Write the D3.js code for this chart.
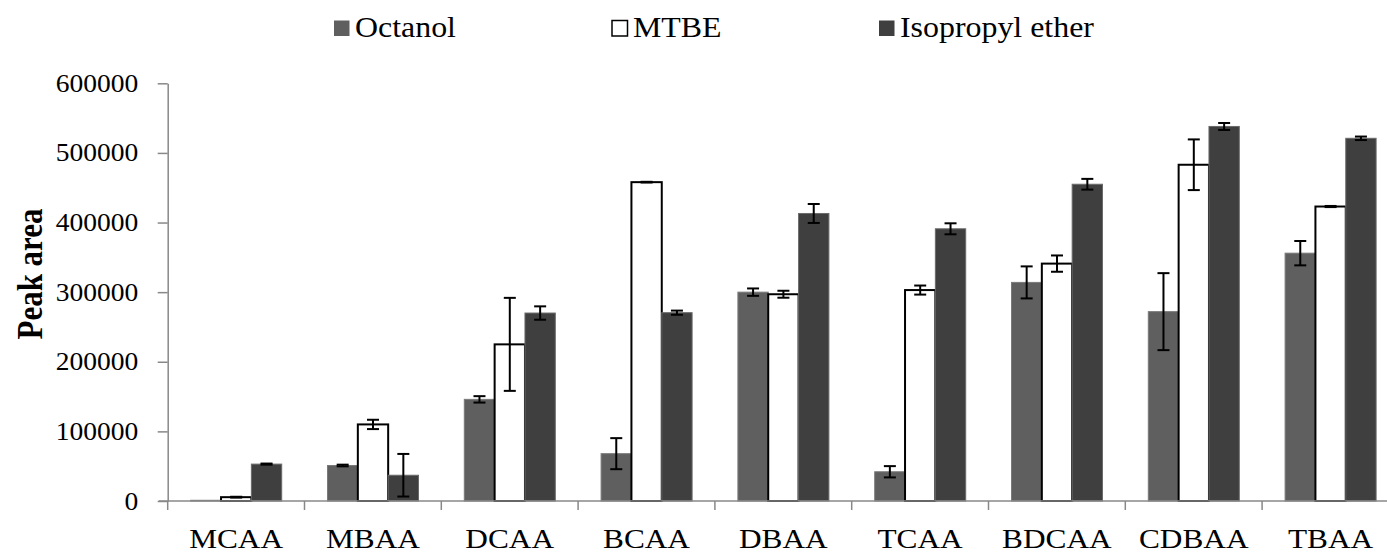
<!DOCTYPE html>
<html>
<head>
<meta charset="utf-8">
<script src="https://cdn.jsdelivr.net/npm/d3@7"></script>
<style>
  body { margin: 0; background: #fff; }
  text { font-family: "Liberation Serif", "Times New Roman", serif; fill: #000; }
</style>
</head>
<body>
<div id="chart"></div>
<script>
const categories = ["MCAA", "MBAA", "DCAA", "BCAA", "DBAA", "TCAA", "BDCAA", "CDBAA", "TBAA"];
const seriesNames = ["Octanol", "MTBE", "Isopropyl ether"];

// peak areas
const octanol = [1000, 51000, 146000, 68000, 300000, 42000, 314000, 272000, 356000];
const mtbe = [5500, 110000, 225000, 458000, 297000, 303000, 341000, 483000, 423000];
const isopropyl = [53000, 37000, 270000, 270500, 413000, 391000, 455000, 538000, 521000];

// error bar half-lengths
const octanolErr = [0, 1200, 4600, 22300, 5300, 8100, 23000, 55300, 17500];
const mtbeErr = [600, 6700, 66800, 500, 5000, 6500, 11700, 36400, 800];
const isopropylErr = [800, 30600, 9600, 3000, 13600, 7900, 7700, 5000, 2500];

const yTicks = [0, 100000, 200000, 300000, 400000, 500000, 600000];

const width = 1387, height = 554;
const x0 = 167.7, step = 136.8;
const yBase = 501, yTop = 83.3;
const serif = "'Liberation Serif', 'Times New Roman', serif";

const svg = d3.select("#chart").append("svg")
  .attr("width", width)
  .attr("height", height);

const x = d3.scaleBand()
  .domain(categories)
  .range([x0, x0 + step * categories.length])
  .padding(0);

const xs = d3.scaleBand()
  .domain(seriesNames)
  .range([23, 114])
  .padding(0);

const y = d3.scaleLinear()
  .domain([0, 600000])
  .range([yBase, yTop]);

const styles = {
  "Octanol": { fill: "#5f5f5f", stroke: "#7a7a7a", sw: 1 },
  "MTBE": { fill: "#ffffff", stroke: "#000000", sw: 2 },
  "Isopropyl ether": { fill: "#3f3f3f", stroke: "#6a6a6a", sw: 1 }
};

const rows = [];
categories.forEach((c, i) => {
  rows.push({ cat: c, s: "Octanol", v: octanol[i], e: octanolErr[i] });
  rows.push({ cat: c, s: "MTBE", v: mtbe[i], e: mtbeErr[i] });
  rows.push({ cat: c, s: "Isopropyl ether", v: isopropyl[i], e: isopropylErr[i] });
});

// axes
const gy = svg.append("g")
  .attr("transform", `translate(${x0},0)`)
  .call(d3.axisLeft(y).tickValues(yTicks).tickSize(10).tickSizeOuter(0).tickFormat(d3.format("d")));
gy.select(".domain").attr("stroke", "#888").attr("stroke-width", 1.5);
gy.selectAll(".tick line").attr("stroke", "#888").attr("stroke-width", 1.5);
gy.selectAll(".tick text")
  .attr("x", 0)
  .attr("transform", "translate(-29.5,0) scale(1.1,1)")
  .style("font-size", "25px")
  .style("font-family", serif);

// bars
svg.append("g").selectAll("rect")
  .data(rows)
  .enter()
  .append("rect")
  .attr("x", d => x(d.cat) + xs(d.s))
  .attr("y", d => y(d.v))
  .attr("width", xs.bandwidth())
  .attr("height", d => yBase - y(d.v))
  .attr("fill", d => styles[d.s].fill)
  .attr("stroke", d => styles[d.s].stroke)
  .attr("stroke-width", d => styles[d.s].sw);

const gx = svg.append("g")
  .attr("transform", `translate(0,${yBase})`);
gx.append("line")
  .attr("x1", x0 - 9).attr("x2", width)
  .attr("stroke", "#888").attr("stroke-width", 1.5);
gx.selectAll("line.tick")
  .data(d3.range(categories.length + 1))
  .enter()
  .append("line")
  .attr("class", "tick")
  .attr("x1", i => x0 + i * step)
  .attr("x2", i => x0 + i * step)
  .attr("y1", 0).attr("y2", 9)
  .attr("stroke", "#888").attr("stroke-width", 1.5);
gx.selectAll("text")
  .data(categories)
  .enter()
  .append("text")
  .attr("transform", d => `translate(${x(d) + x.bandwidth() / 2},46.5) scale(1.16,1)`)
  .attr("text-anchor", "middle")
  .style("font-family", serif)
  .style("font-size", "27px")
  .text(d => d);

// error bars
const eb = svg.append("g").attr("stroke", "#000").attr("stroke-width", 2);
rows.filter(d => d.e > 0).forEach(d => {
  const cx = x(d.cat) + xs(d.s) + xs.bandwidth() / 2;
  const y1 = y(d.v + d.e), y2 = y(d.v - d.e);
  eb.append("line").attr("x1", cx).attr("x2", cx).attr("y1", y1).attr("y2", y2);
  eb.append("line").attr("x1", cx - 6).attr("x2", cx + 6).attr("y1", y1).attr("y2", y1);
  eb.append("line").attr("x1", cx - 6).attr("x2", cx + 6).attr("y1", y2).attr("y2", y2);
});

// y label
svg.append("text")
  .attr("transform", "translate(42,274) rotate(-90) scale(1,1.17)")
  .attr("text-anchor", "middle")
  .style("font-family", serif)
  .style("font-size", "31px")
  .style("font-weight", "bold")
  .text("Peak area");

// legend
const legendX = [334, 612, 879];
const lg = svg.append("g");
seriesNames.forEach((s, i) => {
  lg.append("rect")
    .attr("x", legendX[i]).attr("y", 20.5)
    .attr("width", 15.5).attr("height", 15.5)
    .attr("fill", styles[s].fill)
    .attr("stroke", s === "MTBE" ? "#000" : "none")
    .attr("stroke-width", 1.5);
  lg.append("text")
    .attr("transform", `translate(${legendX[i] + 21},36.5) scale(1.1,1)`)
    .style("font-family", serif)
    .style("font-size", "29px")
    .text(s);
});
</script>
</body>
</html>
